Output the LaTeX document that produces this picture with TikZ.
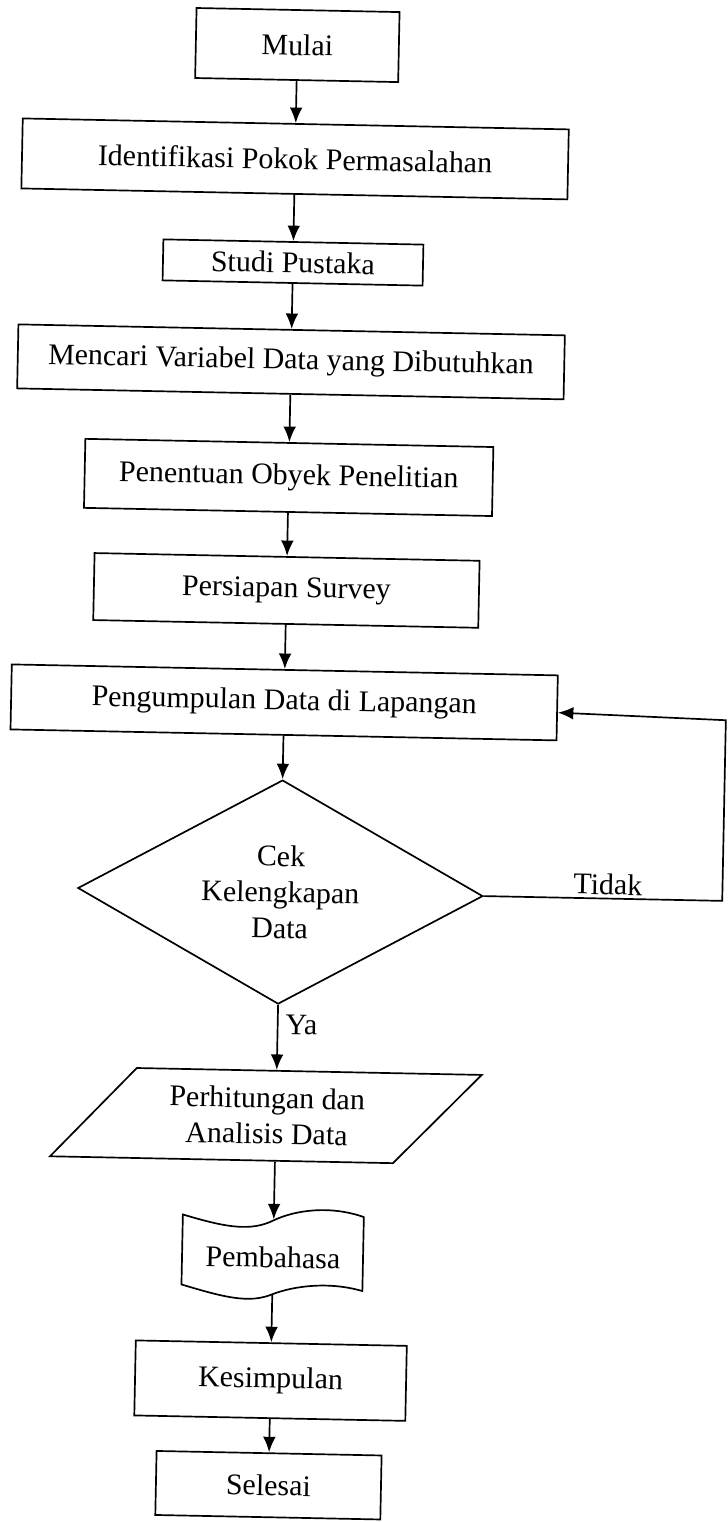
\documentclass[tikz,border=0pt]{standalone}
\usepackage{fontspec}
\setmainfont{Liberation Serif}
\usetikzlibrary{shapes.geometric, arrows.meta}

\begin{document}
\begin{tikzpicture}[x=0.025cm, y=-0.025cm, very thick,
  every node/.style={font=\fontsize{21.3}{25.5}\selectfont, inner sep=0pt},
  kotak/.style={draw, rectangle},
  panah/.style={-{Latex[length=11pt,width=9pt]}}]

\useasboundingbox (0,0) rectangle (728,1522);

\begin{scope}[rotate around={-1.15:(364,761)}, transform shape]

\node[kotak, minimum width=5.075cm, minimum height=1.75cm] (mulai) at (283,46.5) {Mulai};
\node[kotak, minimum width=13.65cm, minimum height=1.75cm] (ident) at (283,160.4) {Identifikasi Pokok Permasalahan};
\node[kotak, minimum width=6.5cm, minimum height=1.025cm] (studi) at (283,264) {Studi Pustaka};
\node[kotak, minimum width=13.66cm, minimum height=1.6cm] (cari) at (283,363.4) {Mencari Variabel Data yang Dibutuhkan};
\node[kotak, minimum width=10.2cm, minimum height=1.725cm] (tentu) at (283,479) {Penentuan Obyek Penelitian};
\node[kotak, minimum width=9.625cm, minimum height=1.675cm] (siap) at (283,592) {Persiapan Survey};
\node[kotak, minimum width=13.65cm, minimum height=1.625cm] (kumpul) at (283,704) {Pengumpulan Data di Lapangan};

\node[draw, diamond, aspect=2, align=center, minimum width=10.125cm, minimum height=5.6cm] (cek) at (283,893.7) {Cek\\Kelengkapan\\Data};

% jajaran genjang
\node[align=center, minimum height=2.25cm] (hitung) at (274,1117.5) {Perhitungan dan\\Analisis Data};
\draw (143,1072.5) -- (488,1072.5) -- (401,1162.5) -- (58,1162.5) -- cycle;

% dokumen
\node[minimum width=4.525cm, minimum height=1.85cm] (bahas) at (283,1259) {Pembahasa};
\draw (192,1218) .. controls (235,1230) and (260,1234) .. (283,1222)
      .. controls (305,1211) and (340,1206) .. (373,1217)
      -- (373,1291)
      .. controls (340,1282) and (305,1287) .. (283,1296)
      .. controls (260,1306) and (235,1300) .. (192,1288) -- cycle;

\node[kotak, minimum width=6.775cm, minimum height=1.875cm] (simpul) at (283,1382.4) {Kesimpulan};
\node[kotak, minimum width=5.625cm, minimum height=1.6cm] (selesai) at (283,1487) {Selesai};

\foreach \a/\b in {mulai/ident, ident/studi, studi/cari, cari/tentu, tentu/siap,
                   siap/kumpul, kumpul/cek, bahas/simpul, simpul/selesai}
   {
	\draw[panah] (\a.south) -- (\b.north);
   };

\draw[panah] (cek.south) -- node[pos=0.3, right=5pt]{Ya} (cek.south |- hitung.north);
\draw[panah] (hitung.south -| bahas.north) -- (bahas.north);

\coordinate (sudut) at (725,893.7);
\coordinate (balik) at (725,713);
\draw[panah] (cek.east) -- node[pos=0.52, above=2pt]{Tidak} (sudut) -- (balik) -- (kumpul.-1.9);

\end{scope}
\end{tikzpicture}
\end{document}
